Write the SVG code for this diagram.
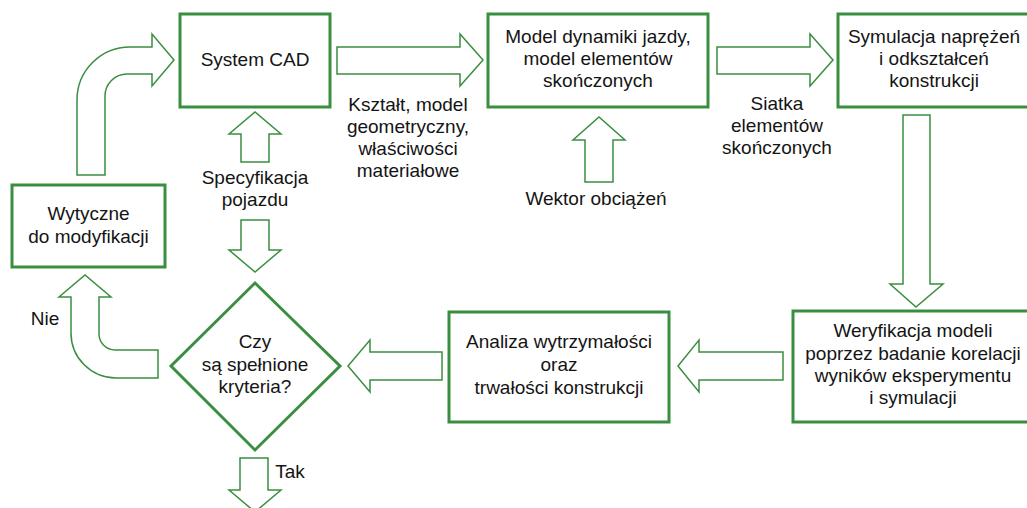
<svg xmlns="http://www.w3.org/2000/svg" width="1027" height="508" viewBox="0 0 1027 508">
<style>
.box{fill:#fff;stroke:#3a8e3f;stroke-width:3}
.arr{fill:#fff;stroke:#3a8e3f;stroke-width:1.5;stroke-linejoin:miter}
text{font-family:"Liberation Sans",Arial,sans-serif;font-size:19px;fill:#141414;text-anchor:middle}
</style>
<rect width="1027" height="508" fill="#fff"/>
<g id="connectors">
<path class="arr" d="M337,47 H460 V34 L483,60 L460,86 V74 H337 Z"/>
<path class="arr" d="M717,47 H810 V34 L833,60 L810,86 V74 H717 Z"/>
<path class="arr" d="M585,182 V140 H573 L599,117 L625,140 H613 V182 Z"/>
<path class="arr" d="M241,162 V134 H229 L255,112 L281,134 H269 V162 Z"/>
<path class="arr" d="M241,220 V250 H229 L255,272 L281,250 H269 V220 Z"/>
<path class="arr" d="M903,115 V284 H890 L916,307 L943,284 H930 V115 Z"/>
<path class="arr" d="M783,352 H699 V340 L678,366 L699,392 V380 H783 Z"/>
<path class="arr" d="M442,352 H370 V340 L348,366 L370,392 V380 H442 Z"/>
<path class="arr" d="M240,458 V490 H229 L255,512 L281,490 H268 V458 Z"/>
<path class="arr" d="M77,175 V100 A53,53 0 0 1 130,47 H152 V34 L174,60 L152,86 V74 H127 A22,22 0 0 0 105,96 V175 Z"/>
<path class="arr" d="M158,350 H115 A16,16 0 0 1 99,334 V297 H111 L85,275 L59,297 H71 V333 A45,45 0 0 0 116,378 H158 Z"/>
<text x="255" y="184">Specyfikacja</text>
<text x="255" y="206">pojazdu</text>
<text x="408" y="111">Kształt, model</text>
<text x="408" y="133">geometryczny,</text>
<text x="408" y="155">właściwości</text>
<text x="408" y="177">materiałowe</text>
<text x="777" y="110">Siatka</text>
<text x="777" y="132">elementów</text>
<text x="777" y="154">skończonych</text>
<text x="596" y="205">Wektor obciążeń</text>
<text x="45" y="325">Nie</text>
<text x="290" y="478">Tak</text>
</g>
<g id="cad">
<rect class="box" x="180" y="14" width="150" height="93"/>
<text x="255" y="66">System CAD</text>
</g>
<g id="model">
<rect class="box" x="488" y="14" width="220" height="93"/>
<text x="598" y="43">Model dynamiki jazdy,</text>
<text x="598" y="65">model elementów</text>
<text x="598" y="87">skończonych</text>
</g>
<g id="symulacja">
<rect class="box" x="838" y="14" width="192" height="93"/>
<text x="934" y="43">Symulacja naprężeń</text>
<text x="934" y="65">i odkształceń</text>
<text x="934" y="87">konstrukcji</text>
</g>
<g id="wytyczne">
<rect class="box" x="12" y="185" width="153" height="82"/>
<text x="88.5" y="220">Wytyczne</text>
<text x="88.5" y="243">do modyfikacji</text>
</g>
<g id="kryteria">
<polygon class="box" points="255,283 340,366 255,450 171,366"/>
<text x="255" y="348">Czy</text>
<text x="255" y="371">są spełnione</text>
<text x="255" y="393">kryteria?</text>
</g>
<g id="analiza">
<rect class="box" x="449" y="312" width="220" height="110"/>
<text x="559" y="348">Analiza wytrzymałości</text>
<text x="559" y="371">oraz</text>
<text x="559" y="394">trwałości konstrukcji</text>
</g>
<g id="weryfikacja">
<rect class="box" x="793" y="311" width="240" height="111"/>
<text x="913" y="337">Weryfikacja modeli</text>
<text x="913" y="360">poprzez badanie korelacji</text>
<text x="913" y="382">wyników eksperymentu</text>
<text x="913" y="404">i symulacji</text>
</g>
</svg>
